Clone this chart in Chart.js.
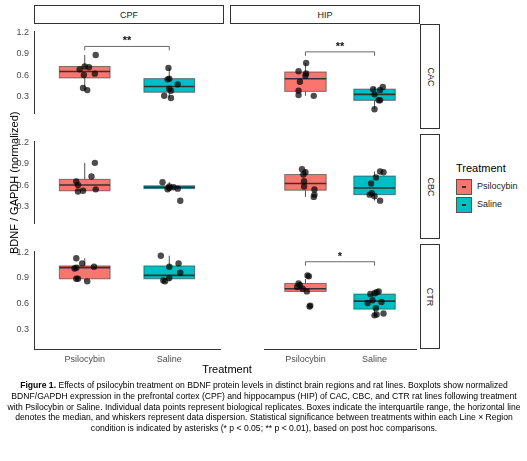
<!DOCTYPE html>
<html><head><meta charset="utf-8">
<script src="https://cdn.jsdelivr.net/npm/chart.js@4"></script>
<style>
body{margin:0;width:527px;height:461px;background:#fff;font-family:"Liberation Sans",Arial,sans-serif;position:relative;overflow:hidden}
canvas{position:absolute}
.strip{position:absolute;border:1.3px solid #333;box-sizing:border-box;font-size:9px;color:#1a1a1a;display:flex;align-items:center;justify-content:center;background:#fff}
.rs span{transform:rotate(90deg);display:block}
#cap{position:absolute;left:6px;top:380px;width:516px;font-size:8.6px;line-height:10.8px;color:#000;text-align:center}
</style></head><body>
<script>
// ---- data ----
const categories = ["Psilocybin","Saline"];
const regions = ["CPF","HIP"];
const lines = ["CAC","CBC","CTR"];
const yTicks = [0.3,0.6,0.9,1.2];
// box stats: [lowWhisker, q1, median, q3, highWhisker]
const boxCPF_CAC = [[0.39,0.56,0.65,0.72,0.88],[0.28,0.36,0.44,0.55,0.70]];
const boxHIP_CAC = [[0.30,0.36,0.53,0.62,0.74],[0.12,0.24,0.32,0.39,0.42]];
const boxCPF_CBC = [[0.51,0.52,0.60,0.68,0.91],[0.54,0.55,0.57,0.59,0.64]];
const boxHIP_CBC = [[0.42,0.51,0.60,0.72,0.79],[0.37,0.45,0.54,0.70,0.76]];
const boxCPF_CTR = [[0.86,0.89,1.02,1.04,1.13],[0.86,0.89,0.93,1.04,1.16]];
const boxHIP_CTR = [[0.72,0.72,0.75,0.81,0.86],[0.44,0.52,0.61,0.69,0.72]];
// points: psilocybin / saline values
const ptCPF_CAC = [[0.88,0.72,0.71,0.68,0.62,0.60,0.42,0.39],[0.70,0.55,0.54,0.47,0.41,0.38,0.31,0.28]];
const ptHIP_CAC = [[0.74,0.63,0.60,0.57,0.49,0.37,0.31,0.30],[0.42,0.39,0.38,0.32,0.24,0.24,0.12]];
const ptCPF_CBC = [[0.91,0.72,0.65,0.60,0.54,0.52,0.51],[0.64,0.58,0.57,0.56,0.55,0.54,0.38]];
const ptHIP_CBC = [[0.79,0.75,0.72,0.63,0.56,0.52,0.45,0.42],[0.76,0.75,0.68,0.60,0.47,0.45,0.43,0.37]];
const ptCPF_CTR = [[1.13,1.07,1.03,1.02,1.01,0.89,0.89,0.86],[1.16,1.07,1.03,0.96,0.90,0.87,0.86]];
const ptHIP_CTR = [[0.90,0.89,0.81,0.79,0.77,0.75,0.72,0.56,0.55],[0.72,0.71,0.70,0.69,0.62,0.60,0.59,0.53,0.47,0.46,0.45]];
// horizontal jitter offsets (in category units)
const jitCPF_CAC = [[0.13,0.0,0.05,-0.06,0.12,-0.01,-0.02,0.03],[-0.01,0.0,-0.02,0.1,0.0,0.02,-0.06,0.02]];
const jitHIP_CAC = [[0.01,-0.1,0.01,0.0,-0.08,-0.1,-0.1,0.12],[0.12,-0.02,0.08,0.0,0.06,0.08,0.0]];
const jitCPF_CBC = [[0.12,0.08,-0.1,-0.08,0.13,-0.02,-0.08],[-0.08,0.0,0.05,0.0,0.1,-0.02,0.13]];
const jitHIP_CBC = [[-0.05,0.0,-0.03,-0.02,-0.02,0.13,0.13,0.12],[0.08,0.13,0.02,-0.05,-0.04,-0.07,0.0,0.08]];
const jitCPF_CTR = [[-0.1,-0.03,0.11,-0.1,-0.12,-0.08,-0.1,0.03],[-0.1,0.11,0.0,0.13,0.0,-0.07,-0.05]];
const jitHIP_CTR = [[0.03,0.05,-0.1,-0.08,-0.12,-0.04,0.02,0.07,0.06],[0.06,0.03,0.0,-0.06,-0.03,0.1,-0.1,0.02,0.13,0.03,0.0]];
// significance: [x1,x2,y,label]
const sigCPF_CAC = [1,2,1.00,"**"];
const sigHIP_CAC = [1,2,0.89,"**"];
const sigHIP_CTR = [1,2,1.055,"*"];
const fills = ["#F8766D","#00BFC4"];

const boxPlugin = {
  id:'boxes',
  beforeDatasetsDraw(chart){
    const o = chart.options.plugins.boxes; const c = chart.ctx;
    const xs = chart.scales.x, ys = chart.scales.y;
    c.save();
    o.stats.forEach((s,i)=>{
      const xc = xs.getPixelForValue(i+1);
      const hw = xs.getPixelForValue(i+1+0.3)-xc;
      c.strokeStyle = "rgba(51,51,51,0.85)"; c.lineWidth = 1;
      c.beginPath(); c.moveTo(xc,ys.getPixelForValue(s[0])); c.lineTo(xc,ys.getPixelForValue(s[1]));
      c.moveTo(xc,ys.getPixelForValue(s[3])); c.lineTo(xc,ys.getPixelForValue(s[4])); c.stroke();
      const y1 = ys.getPixelForValue(s[3]), y2 = ys.getPixelForValue(s[1]);
      c.fillStyle = fills[i]; c.fillRect(xc-hw,y1,2*hw,y2-y1);
      c.strokeStyle = "rgba(51,51,51,0.6)"; c.strokeRect(xc-hw,y1,2*hw,y2-y1);
      c.strokeStyle = "#333"; c.lineWidth = 1.6;
      const ym = ys.getPixelForValue(s[2]);
      c.beginPath(); c.moveTo(xc-hw,ym); c.lineTo(xc+hw,ym); c.stroke();
    });
    if(o.sig){
      const g=o.sig; const yp=ys.getPixelForValue(g[2]);
      const xa=xs.getPixelForValue(g[0]), xb=xs.getPixelForValue(g[1]);
      c.strokeStyle="#444"; c.lineWidth=0.8;
      c.beginPath(); c.moveTo(xa,yp+4); c.lineTo(xa,yp); c.lineTo(xb,yp); c.lineTo(xb,yp+4); c.stroke();
      c.fillStyle="#111"; c.font="bold 11px 'Liberation Sans'"; c.textAlign="center";
      c.fillText(g[3],(xa+xb)/2,yp-2);
    }
    c.restore();
  }
};

function panel(left, top, w, h, box, pts, jit, sig, showY, showX){
  const cv=document.createElement('canvas');
  cv.width=w; cv.height=h;
  cv.style.left=left+'px'; cv.style.top=top+'px';
  cv.style.width=w+'px'; cv.style.height=h+'px';
  document.body.appendChild(cv);
  const ds = pts.map((arr,i)=>({
    data: arr.map((v,k)=>({x:i+1+jit[i][k], y:v})),
    backgroundColor:"rgba(0,0,0,0.7)", borderWidth:0, pointRadius:3.2
  }));
  new Chart(cv,{type:'scatter',data:{datasets:ds},plugins:[boxPlugin],
    options:{responsive:false,animation:false,devicePixelRatio:1,
      layout:{padding:0},
      plugins:{legend:{display:false},tooltip:{enabled:false},boxes:{stats:box,sig:sig}},
      scales:{
        x:{type:'linear',min:0.4,max:2.6,display:showX,
          grid:{display:false,drawTicks:true,tickLength:3,tickColor:'#333'},border:{display:true,color:'#333',width:1},
          afterBuildTicks:a=>{a.ticks=[{value:1},{value:2}]},
          afterFit:a=>{a.height=16},
          ticks:{callback:v=>categories[v-1],color:'#4d4d4d',font:{size:9,family:'Liberation Sans'},padding:2,maxRotation:0}},
        y:{min:0.07,max:1.21,display:showY,
          grid:{display:false,drawTicks:true,tickLength:3,tickColor:'#333'},border:{display:true,color:'#333',width:1},
          afterBuildTicks:a=>{a.ticks=yTicks.map(v=>({value:v}))},
          afterFit:a=>{a.width=34},
          ticks:{callback:v=>v.toFixed(1),color:'#4d4d4d',font:{size:9,family:'Liberation Sans'},padding:2}}
      }}});
}
function el(cls,l,t,w,h,txt){const d=document.createElement('div');d.className=cls;d.style.left=l+'px';d.style.top=t+'px';d.style.width=w+'px';d.style.height=h+'px';d.innerHTML=txt;document.body.appendChild(d);}

el('strip',34,5,190,19,regions[0]);
el('strip',230,5,190,19,regions[1]);
const rowTops=[24,134,244];
lines.forEach((l,i)=>el('strip rs',420,rowTops[i],20,105,'<span>'+l+'</span>'));

panel(0,24,224,105,boxCPF_CAC,ptCPF_CAC,jitCPF_CAC,sigCPF_CAC,true,false);
panel(230,24,190,105,boxHIP_CAC,ptHIP_CAC,jitHIP_CAC,sigHIP_CAC,false,false);
panel(0,134,224,105,boxCPF_CBC,ptCPF_CBC,jitCPF_CBC,null,true,false);
panel(230,134,190,105,boxHIP_CBC,ptHIP_CBC,jitHIP_CBC,null,false,false);
panel(0,244,224,121,boxCPF_CTR,ptCPF_CTR,jitCPF_CTR,null,true,true);
panel(230,244,190,121,boxHIP_CTR,ptHIP_CTR,jitHIP_CTR,sigHIP_CTR,false,true);

document.body.insertAdjacentHTML('beforeend',`
<div style="position:absolute;left:-56px;top:178px;width:140px;transform:rotate(-90deg);font-size:11px;color:#000;text-align:center;white-space:nowrap">BDNF / GAPDH (normalized)</div>
<div style="position:absolute;left:34px;top:363px;width:386px;text-align:center;font-size:11px;color:#000">Treatment</div>
<div style="position:absolute;left:456px;top:162px;font-size:11px;color:#000">Treatment</div>
<div style="position:absolute;left:456px;top:179px;width:16px;height:16px;background:#F8766D;border:1px solid #555;box-sizing:border-box"></div>
<div style="position:absolute;left:462px;top:186px;width:4px;height:2px;background:#333"></div>
<div style="position:absolute;left:477px;top:181px;font-size:9px;color:#1a1a1a">Psilocybin</div>
<div style="position:absolute;left:456px;top:197px;width:16px;height:16px;background:#00BFC4;border:1px solid #555;box-sizing:border-box"></div>
<div style="position:absolute;left:462px;top:204px;width:4px;height:2px;background:#333"></div>
<div style="position:absolute;left:477px;top:199px;font-size:9px;color:#1a1a1a">Saline</div>
<div id="cap"><b>Figure 1.</b> Effects of psilocybin treatment on BDNF protein levels in distinct brain regions and rat lines. Boxplots show normalized BDNF/GAPDH expression in the prefrontal cortex (CPF) and hippocampus (HIP) of CAC, CBC, and CTR rat lines following treatment with Psilocybin or Saline. Individual data points represent biological replicates. Boxes indicate the interquartile range, the horizontal line denotes the median, and whiskers represent data dispersion. Statistical significance between treatments within each Line × Region condition is indicated by asterisks (* p &lt; 0.05; ** p &lt; 0.01), based on post hoc comparisons.</div>`);
</script>
</body></html>
